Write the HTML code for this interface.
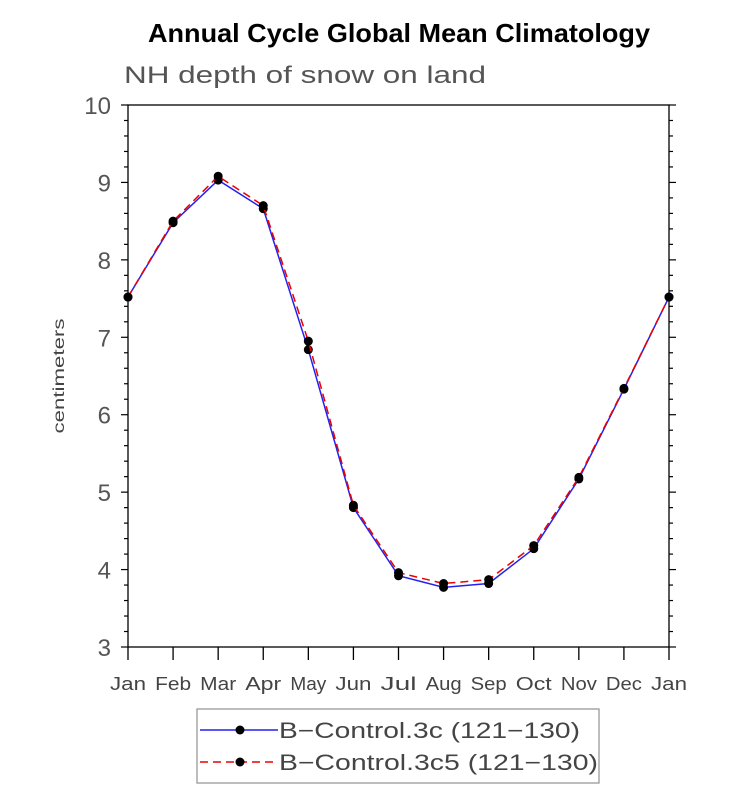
<!DOCTYPE html>
<html><head><meta charset="utf-8"><style>
body{margin:0;background:#fff;}
svg{display:block;font-family:"Liberation Sans",sans-serif;}
</style></head><body>
<svg id="chart" width="733" height="788">
<text x="148" y="42" font-size="26" font-weight="bold" textLength="502" lengthAdjust="spacingAndGlyphs">Annual Cycle Global Mean Climatology</text>
<text x="124" y="83" font-size="24" fill="#555" textLength="362" lengthAdjust="spacingAndGlyphs">NH depth of snow on land</text>
<text transform="translate(64,376) rotate(-90)" text-anchor="middle" font-size="16" fill="#444" textLength="115" lengthAdjust="spacingAndGlyphs">centimeters</text>
<rect x="128" y="105" width="541" height="542" fill="none" stroke="#000" stroke-width="1.3"/>
<g id="axes"></g><g id="series"></g>
<rect x="197" y="709" width="402" height="74" fill="none" stroke="#999" stroke-width="1.3"/>
<g>
<line x1="200" y1="730" x2="278" y2="730" stroke="#2222ee" stroke-width="1.5"/><circle cx="240" cy="730" r="4.5"/>
<text x="279" y="738" font-size="22" fill="#444" textLength="301" lengthAdjust="spacingAndGlyphs">B−Control.3c (121−130)</text></g>
<g>
<line x1="200" y1="762" x2="278" y2="762" stroke="#ee0000" stroke-width="1.5" stroke-dasharray="8,5"/><circle cx="240" cy="762" r="4.5"/>
<text x="279" y="770" font-size="22" fill="#444" textLength="319" lengthAdjust="spacingAndGlyphs">B−Control.3c5 (121−130)</text></g>
</svg>
<script>
const months=["Jan","Feb","Mar","Apr","May","Jun","Jul","Aug","Sep","Oct","Nov","Dec","Jan"];
const seriesA=[7.52,8.48,9.03,8.66,6.84,4.80,3.92,3.77,3.82,4.27,5.17,6.33,7.52];
const seriesB=[7.52,8.50,9.08,8.70,6.95,4.83,3.96,3.82,3.87,4.31,5.19,6.34,7.52];
const yTicks=[3,4,5,6,7,8,9,10];
const NS="http://www.w3.org/2000/svg";
const X0=128,X1=669,Y0=647,Y1=105,YMIN=3,YMAX=10;
const xs=i=>X0+(X1-X0)*i/(months.length-1);
const ys=v=>Y0-(Y0-Y1)*(v-YMIN)/(YMAX-YMIN);
function mk(t,a,p){const e=document.createElementNS(NS,t);for(const k in a)e.setAttribute(k,a[k]);p.appendChild(e);return e;}
const ax=document.getElementById('axes');
months.forEach((m,i)=>{
 const l=mk('line',{x1:xs(i),x2:xs(i),y1:Y0,y2:Y0+13,stroke:'#000','stroke-width':1.3},ax);
 
 
 const w=m.length*12;
 const t=mk('text',{x:xs(i),y:Y0+43,'text-anchor':'middle','font-size':18,fill:'#444',textLength:w,lengthAdjust:'spacingAndGlyphs'},ax);t.textContent=m;
 
 
});
for(let v=YMIN;v<=YMAX+1e-9;v+=0.2){
 const major=Math.abs(v-Math.round(v))<1e-6,len=major?7:4;
 [[X0,-1],[X1,1]].forEach(([x,d])=>{
  const l=mk('line',{x1:x,x2:x+d*len,y1:ys(v),y2:ys(v),stroke:'#000','stroke-width':1.2},ax);
  
  
 });
}
yTicks.forEach(v=>{
 const t=mk('text',{x:X0-17,y:ys(v)+9,'text-anchor':'end','font-size':24,fill:'#555'},ax);t.textContent=v;
 
 
});
const sg=document.getElementById('series');
function draw(vals,color,dash,name){
 const p=mk('polyline',{points:vals.map((v,i)=>xs(i)+','+ys(v)).join(' '),fill:'none',stroke:color,'stroke-width':1.5,'stroke-dasharray':dash},sg);
 
 
 vals.forEach((v,i)=>{
  const c=mk('circle',{cx:xs(i),cy:ys(v),r:4.5,fill:'#000'},sg);
  
  
 });
}
draw(seriesA,'#2222ee','none','control-3c');
draw(seriesB,'#ee0000','8,5','control-3c5');
</script>
</body></html>
